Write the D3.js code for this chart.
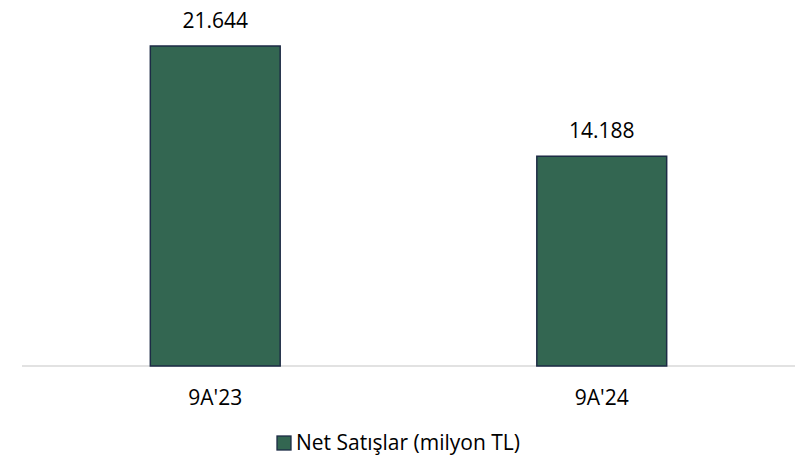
<!DOCTYPE html>
<html>
<head>
<meta charset="utf-8">
<script src="https://cdn.jsdelivr.net/npm/d3@7"></script>
<style>
  body { margin: 0; background: #fff; }
  text { font-family: "Open Sans", "Liberation Sans", sans-serif; fill: #000; }
</style>
</head>
<body>
<svg id="chart"></svg>
<script>
var categories = ["9A'23", "9A'24"];
var netSales = [21644, 14188];
var valueLabels = ["21.644", "14.188"];
var seriesName = "Net Satışlar (milyon TL)";

var width = 803;
var height = 458;

var chart = d3.select("#chart")
    .attr("width", width)
    .attr("height", height);

var x = d3.scaleBand()
    .domain(categories)
    .range([22, 795])
    .padding(0);

var y = d3.scaleLinear()
    .domain([0, 21644])
    .range([366, 46]);

var barWidth = x.bandwidth() * 0.336;

// axis line
chart.append("line")
    .attr("x1", 22).attr("x2", 795)
    .attr("y1", 366).attr("y2", 366)
    .attr("stroke", "#d9d9d9")
    .attr("stroke-width", 1.5);

var bar = chart.selectAll("g.bar")
    .data(categories)
  .enter().append("g")
    .attr("class", "bar")
    .attr("transform", function(d) { return "translate(" + (x(d) + x.bandwidth() / 2) + ",0)"; });

bar.append("rect")
    .attr("x", -barWidth / 2)
    .attr("width", barWidth)
    .attr("y", function(d, i) { return y(netSales[i]); })
    .attr("height", function(d, i) { return y(0) - y(netSales[i]); })
    .attr("fill", "#336651")
    .attr("stroke", "#1d2b45")
    .attr("stroke-width", 1.5);

bar.append("text")
    .attr("text-anchor", "middle")
    .attr("y", function(d, i) { return y(netSales[i]) - 18; })
    .style("font-size", "21px")
    .text(function(d, i) { return valueLabels[i]; });

bar.append("text")
    .attr("text-anchor", "middle")
    .attr("y", 405)
    .style("font-size", "21px")
    .text(function(d) { return d; });

// legend
var legend = chart.append("g").attr("transform", "translate(277,436)");
legend.append("rect")
    .attr("width", 14).attr("height", 14)
    .attr("fill", "#336651")
    .attr("stroke", "#1d2b45")
    .attr("stroke-width", 1.3);
legend.append("text")
    .attr("x", 19)
    .attr("y", 14)
    .style("font-size", "21px")
    .text(seriesName);
</script>
</body>
</html>
